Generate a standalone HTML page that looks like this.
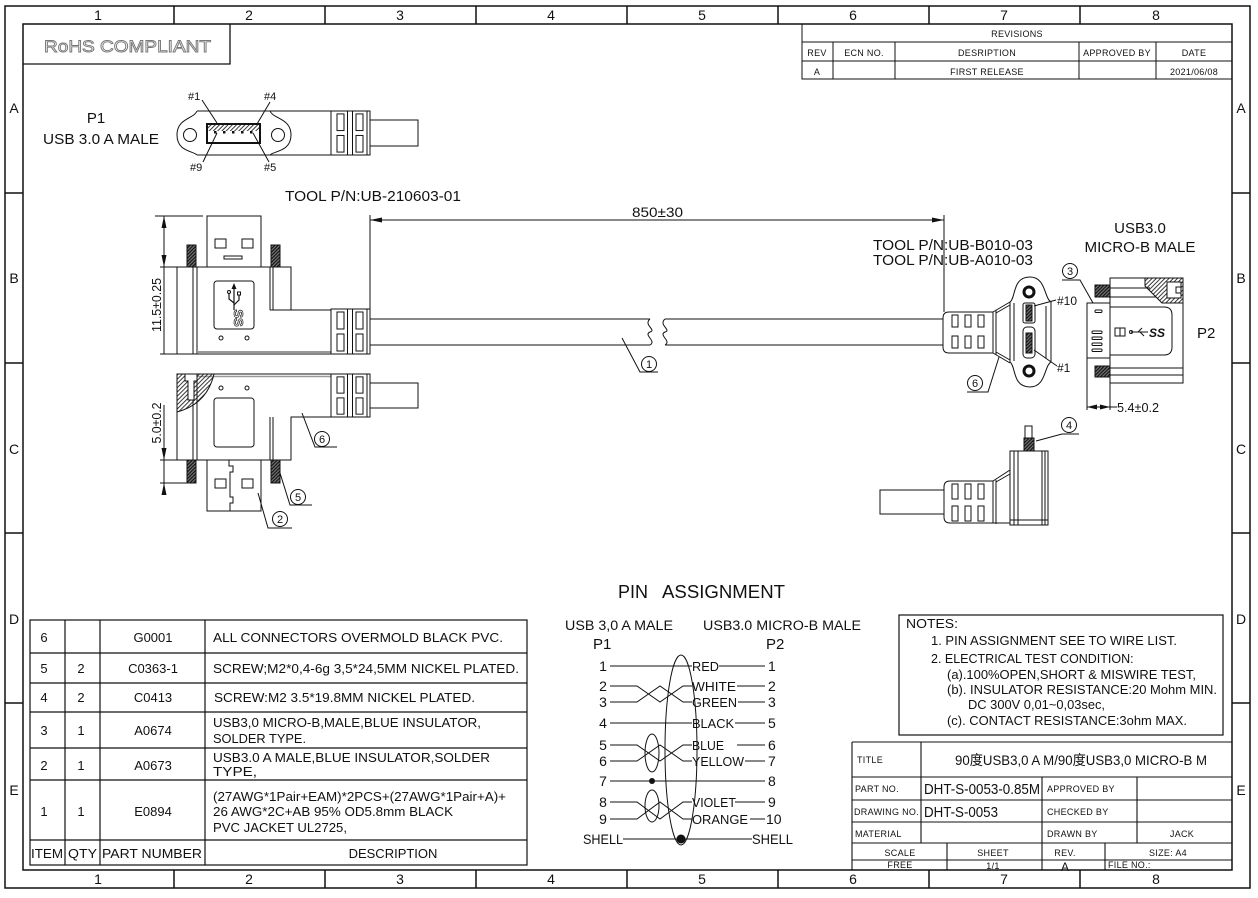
<!DOCTYPE html>
<html><head><meta charset="utf-8"><title>USB3.0 cable drawing</title>
<style>
html,body{margin:0;padding:0;background:#fff;width:1258px;height:898px;overflow:hidden}
svg{display:block}
text{font-family:"Liberation Sans","Noto Sans CJK SC",sans-serif;fill:#111}
.c{font-size:9px;fill:#222;letter-spacing:0.3px}
.z{font-size:14px}
</style></head><body>
<svg width="1258" height="898" viewBox="0 0 1258 898" xmlns="http://www.w3.org/2000/svg">
<defs>
 <pattern id="h" width="3" height="3" patternUnits="userSpaceOnUse" patternTransform="rotate(45)"><line x1="0.5" y1="0" x2="0.5" y2="3" stroke="#222" stroke-width="0.9"/></pattern>
 <pattern id="hd" width="2.4" height="2.4" patternUnits="userSpaceOnUse" patternTransform="rotate(45)"><rect width="2.4" height="2.4" fill="#777"/><line x1="0.6" y1="0" x2="0.6" y2="2.4" stroke="#111" stroke-width="1.2"/></pattern>
 <g id="sr">
  <rect x="0" y="0" width="39" height="45" fill="#fff"/>
  <rect x="6" y="3" width="7" height="17"/><rect x="6" y="25" width="7" height="17"/>
  <line x1="16.5" y1="0" x2="16.5" y2="45"/><line x1="21.5" y1="0" x2="21.5" y2="45"/>
  <rect x="25" y="3" width="7" height="17"/><rect x="25" y="25" width="7" height="17"/>
  <line x1="36" y1="0" x2="36" y2="45"/>
  <rect x="0" y="0" width="39" height="45"/>
 </g>
</defs>
<rect width="1258" height="898" fill="#fff"/>

<!-- FRAME -->
<g stroke="#111" fill="none" stroke-width="1.5">
<rect x="5" y="6" width="1245" height="882"/>
<rect x="23" y="24" width="1209" height="846"/>
<path d="M174,6V24M325,6V24M476,6V24M627,6V24M778,6V24M929,6V24M1080,6V24M174,870V888M325,870V888M476,870V888M627,870V888M778,870V888M929,870V888M1080,870V888M5,193H23M5,363H23M5,533H23M5,703H23M1232,193H1250M1232,363H1250M1232,533H1250M1232,703H1250"/>
</g>
<g class="z" text-anchor="middle">
<text x="98" y="20">1</text><text x="249" y="20">2</text><text x="400" y="20">3</text><text x="551" y="20">4</text><text x="702" y="20">5</text><text x="853" y="20">6</text><text x="1004" y="20">7</text><text x="1156" y="20">8</text>
<text x="98" y="884">1</text><text x="249" y="884">2</text><text x="400" y="884">3</text><text x="551" y="884">4</text><text x="702" y="884">5</text><text x="853" y="884">6</text><text x="1004" y="884">7</text><text x="1156" y="884">8</text>
<text x="14" y="113">A</text><text x="14" y="283">B</text><text x="14" y="454">C</text><text x="14" y="624">D</text><text x="14" y="795">E</text>
<text x="1241" y="113">A</text><text x="1241" y="283">B</text><text x="1241" y="454">C</text><text x="1241" y="624">D</text><text x="1241" y="795">E</text>
</g>

<!-- RoHS -->
<path d="M23,64H230V24" stroke="#111" fill="none" stroke-width="1.3"/>
<text x="44" y="52" font-size="17" textLength="167" lengthAdjust="spacingAndGlyphs" style="fill:#fff;stroke:#777;stroke-width:0.9">RoHS COMPLIANT</text>

<!-- REVISIONS -->
<g stroke="#111" fill="none" stroke-width="1">
<rect x="802" y="24" width="430" height="55"/>
<path d="M802,42H1232M802,61H1232M833,42V79M895,42V79M1079,42V79M1156,42V79"/>
</g>
<g class="c" text-anchor="middle">
<text x="1017" y="37">REVISIONS</text>
<text x="817" y="56">REV</text><text x="864" y="56">ECN NO.</text><text x="987" y="56">DESRIPTION</text><text x="1117" y="56">APPROVED BY</text><text x="1194" y="56">DATE</text>
<text x="817" y="75">A</text><text x="987" y="75">FIRST RELEASE</text><text x="1194" y="75">2021/06/08</text>
</g>

<!-- P1 face view -->
<text x="96" y="123" font-size="15" text-anchor="middle">P1</text>
<text x="43" y="144" font-size="15" textLength="116" lengthAdjust="spacingAndGlyphs">USB 3.0 A MALE</text>
<g stroke="#111" fill="none" stroke-width="1">
<path d="M197,111 C194,119 177,118 177,135 C177,152 194,151 197,155"/>
<path d="M270,111 C273,119 291,118 291,135 C291,152 273,151 270,155"/>
<path d="M197,111H331M197,155H331"/>
<circle cx="190" cy="135" r="6.5"/><circle cx="278" cy="135" r="6.5"/>
<rect x="208" y="125" width="51" height="6" fill="url(#h)" stroke="none"/>
<rect x="207" y="124" width="53" height="19" stroke-width="2"/>
<path d="M202,100L217,123M270,102L257,124M217,133L203,162M253,133L269,162"/>
<rect x="370" y="120" width="48" height="26"/>
</g>
<g fill="#111"><rect x="214" y="131" width="2.5" height="2.5"/><rect x="223" y="131" width="2.5" height="2.5"/><rect x="232" y="131" width="2.5" height="2.5"/><rect x="241" y="131" width="2.5" height="2.5"/><rect x="250" y="131" width="2.5" height="2.5"/></g>
<use href="#sr" transform="translate(331,111) scale(1,0.978)" fill="none" stroke="#111" stroke-width="1"/>
<g font-size="11"><text x="188" y="100">#1</text><text x="264" y="100">#4</text><text x="190" y="171">#9</text><text x="264" y="171">#5</text></g>

<text x="285" y="201" font-size="14.5" textLength="176" lengthAdjust="spacingAndGlyphs">TOOL P/N:UB-210603-01</text>

<!-- TOP SIDE VIEW (A plug) -->
<g stroke="#111" fill="none" stroke-width="1">
<rect x="207" y="216" width="54" height="51"/>
<rect x="215" y="239" width="11" height="9"/><rect x="242" y="239" width="11" height="9"/>
<rect x="224" y="256" width="18" height="3"/>
<rect x="187" y="245" width="9" height="22" fill="url(#hd)"/>
<rect x="271" y="245" width="9" height="22" fill="url(#hd)"/>
<path d="M177,267H291V310H331V354H177Z" fill="#fff"/>
<path d="M193,267V354M197,267V354M270,267V310M273,267V310M270,310H331"/>
<path d="M197,352H331" stroke="#999" stroke-width="2"/>
<rect x="214" y="281" width="40" height="48" rx="3"/>
<path d="M234,287V310M229,293V299L234,303M239,295V300L234,305" stroke-width="1.2"/>
<circle cx="229" cy="292" r="1.5"/><rect x="237.5" y="292" width="3" height="3"/>
<circle cx="221" cy="338" r="2"/><circle cx="247" cy="338" r="2"/>
</g>
<polygon points="234,283 231.5,289 236.5,289" fill="#111"/>
<text x="234" y="318" font-size="13" font-weight="bold" text-anchor="middle" transform="rotate(90 234 318)" style="fill:#fff;stroke:#333;stroke-width:0.8">SS</text>
<use href="#sr" transform="translate(331,309)" fill="none" stroke="#111" stroke-width="1"/>

<!-- dimension 11.5 -->
<g stroke="#111" fill="none" stroke-width="1">
<path d="M155,216H203M160,267H177M160,354H177M164,216V354"/>
<path d="M160,460H177M160,483H187M164,405V495"/>
</g>
<g fill="#111">
<polygon points="164,216 161.5,228 166.5,228"/><polygon points="164,267 161.5,255 166.5,255"/>
<polygon points="164,460 161.5,448 166.5,448"/><polygon points="164,483 161.5,495 166.5,495"/>
</g>
<text x="157" y="305" font-size="13" text-anchor="middle" transform="rotate(-90 157 305)" dy="4" textLength="54" lengthAdjust="spacingAndGlyphs">11.5±0.25</text>
<text x="157" y="423" font-size="13" text-anchor="middle" transform="rotate(-90 157 423)" dy="4" textLength="41" lengthAdjust="spacingAndGlyphs">5.0±0.2</text>

<!-- BOTTOM SIDE VIEW -->
<g stroke="#111" fill="none" stroke-width="1">
<rect x="207" y="460" width="54" height="51"/>
<rect x="215" y="479" width="11" height="9"/><rect x="242" y="479" width="11" height="9"/>
<path d="M229,460V466H233V472H230V497H233V503H230V511"/>
<rect x="187" y="460" width="9" height="23" fill="url(#hd)"/>
<rect x="271" y="460" width="9" height="23" fill="url(#hd)"/>
<path d="M177,374H331V417H291V460H177Z" fill="#fff"/>
<path d="M193,374V460M197,374V460M270,417V460M273,417V460"/>
<path d="M197,376.5H331" stroke="#999" stroke-width="1.5"/>
<path d="M177,374H214Q207,404 177,412Z" fill="url(#h)"/>
<path d="M185,374V381H188V400H194V381H197V374Z" fill="#fff"/>
<rect x="214" y="398" width="40" height="49" rx="3"/>
<circle cx="221" cy="388" r="2"/><circle cx="247" cy="388" r="2"/>
<rect x="370" y="383" width="48" height="25"/>
</g>
<use href="#sr" transform="translate(331,374) scale(1,0.956)" fill="none" stroke="#111" stroke-width="1"/>

<!-- leaders left -->
<g stroke="#111" fill="none" stroke-width="1">
<path d="M302,413L315,447H337"/><circle cx="322" cy="439" r="7.5"/>
<path d="M280,473L290,505H312"/><circle cx="298" cy="497" r="7.5"/>
<path d="M258,493L268,528H292"/><circle cx="280" cy="519" r="7.5"/>
</g>
<g font-size="11" text-anchor="middle"><text x="322" y="443">6</text><text x="298" y="501">5</text><text x="280" y="523">2</text></g>

<!-- CABLE + 850 dim -->
<g stroke="#111" fill="none" stroke-width="1">
<path d="M370,215V309M944,215V312M370,220H944"/>
<path d="M370,319H650M370,345H650M665,319H943M665,345H943"/>
<path d="M650,319C643,325 657,330 650,332C643,335 657,341 650,345"/>
<path d="M665,319C658,325 672,330 665,332C658,335 672,341 665,345"/>
<path d="M622,338L640,372H658"/><circle cx="649" cy="364" r="7.5"/>
</g>
<g fill="#111"><polygon points="370,220 382,217.5 382,222.5"/><polygon points="944,220 932,217.5 932,222.5"/></g>
<text x="649" y="368" font-size="11" text-anchor="middle">1</text>
<text x="632" y="217" font-size="14" textLength="51" lengthAdjust="spacingAndGlyphs">850±30</text>

<text x="873" y="250" font-size="15" textLength="160" lengthAdjust="spacingAndGlyphs">TOOL P/N:UB-B010-03</text>
<text x="873" y="265" font-size="15" textLength="160" lengthAdjust="spacingAndGlyphs">TOOL P/N:UB-A010-03</text>
<text x="1140" y="233" font-size="15" text-anchor="middle">USB3.0</text>
<text x="1140" y="252" font-size="15" text-anchor="middle" textLength="111" lengthAdjust="spacingAndGlyphs">MICRO-B MALE</text>

<!-- RIGHT FRONT VIEW -->
<g stroke="#111" fill="none" stroke-width="1">
<path d="M993,312H949Q943,312 943,318V347Q943,353 949,353H993Z" fill="#fff"/>
<rect x="952" y="315" width="6" height="12"/><rect x="952" y="336" width="6" height="12"/>
<rect x="965" y="315" width="6" height="12"/><rect x="965" y="336" width="6" height="12"/>
<rect x="978" y="315" width="6" height="12"/><rect x="978" y="336" width="6" height="12"/>
<path d="M993,312V353M996,310V355M993,312L1010,302M996,313L1010,305M993,353L1010,363M996,352L1010,360"/>
<path d="M1010,302C1016,298 1012,277 1030,277C1046,277 1044,298 1051,302L1051,362C1044,366 1046,387 1030,387C1012,387 1016,366 1010,362Z" fill="#fff"/>
<path d="M1014,303V361M1046,306V358"/>
<circle cx="1029" cy="292" r="5" stroke-width="3" fill="#fff"/>
<circle cx="1029" cy="371" r="5" stroke-width="3" fill="#fff"/>
<rect x="1023" y="303" width="12" height="20" rx="2"/>
<rect x="1023" y="327" width="12" height="31" rx="4"/>
<rect x="1026" y="305" width="6" height="16" fill="url(#hd)"/>
<rect x="1026" y="333" width="6" height="20" fill="url(#hd)"/>
<path d="M1034,306L1056,300M1034,350L1057,366"/>
<path d="M999,357L988,392H967"/><circle cx="975" cy="383" r="7.5"/>
<path d="M1093,303L1080,280H1062"/><circle cx="1070" cy="271" r="7.5"/>
</g>
<g font-size="12"><text x="1057" y="305">#10</text><text x="1057" y="372">#1</text></g>
<g font-size="11" text-anchor="middle"><text x="975" y="387">6</text><text x="1070" y="275">3</text></g>

<!-- RIGHT SIDE VIEW P2 -->
<g stroke="#111" fill="none" stroke-width="1">
<rect x="1110" y="278" width="73" height="105" fill="#fff"/>
<rect x="1087" y="303" width="23" height="55" fill="#fff"/>
<rect x="1095" y="310" width="7" height="2.5" rx="1"/>
<rect x="1092" y="331" width="10" height="2.5" rx="1"/>
<rect x="1092" y="337" width="10" height="2.5" rx="1"/>
<rect x="1092" y="343" width="10" height="2.5" rx="1"/>
<rect x="1092" y="349" width="10" height="2.5" rx="1"/>
<rect x="1095" y="285" width="15" height="12" fill="url(#hd)"/>
<rect x="1095" y="366" width="15" height="11" fill="url(#hd)"/>
<path d="M1110,288H1150M1110,297H1156M1110,368H1183M1110,375H1183"/>
<path d="M1145,278H1183V303H1162L1145,286Z" fill="url(#h)"/>
<rect x="1167" y="282" width="14" height="16" fill="#fff"/>
<rect x="1176" y="287" width="5" height="6" fill="#fff"/>
<path d="M1110,307H1164Q1172,307 1172,315V347Q1172,355 1164,355H1110"/>
<rect x="1115" y="328" width="10" height="8"/><path d="M1120,328V336"/>
<path d="M1131,332H1148M1138,332L1142,328M1140,332L1144,336"/><circle cx="1131" cy="332" r="1.5"/>
<path d="M1087,358V410M1110,383V410M1087,407H1117"/>
</g>
<g fill="#111"><polygon points="1087,407 1097,404.5 1097,409.5"/><polygon points="1110,407 1100,404.5 1100,409.5"/></g>
<text x="1149" y="337" font-size="12" font-weight="bold" font-style="italic">SS</text>
<text x="1197" y="338" font-size="15">P2</text>
<text x="1117" y="412" font-size="13" textLength="42" lengthAdjust="spacingAndGlyphs">5.4±0.2</text>

<!-- RIGHT BOTTOM VIEW -->
<g stroke="#111" fill="none" stroke-width="1">
<rect x="880" y="490" width="64" height="24" fill="#fff"/>
<path d="M993,481H950Q944,481 944,487V517Q944,523 950,523H993Z" fill="#fff"/>
<rect x="952" y="484" width="6" height="15"/><rect x="952" y="506" width="6" height="15"/>
<rect x="965" y="484" width="6" height="15"/><rect x="965" y="506" width="6" height="15"/>
<rect x="978" y="484" width="6" height="15"/><rect x="978" y="506" width="6" height="15"/>
<path d="M993,481V523M996,480V524M993,481L1010,470M996,482L1010,474M993,523H1048"/>
<rect x="1010" y="451" width="38" height="74" fill="#fff"/>
<path d="M1014,451V525M1018,451V525M1042,451V525M1045,451V525M1010,520H1048"/>
<rect x="1025" y="426" width="7" height="12"/>
<rect x="1024" y="438" width="10" height="13" fill="url(#hd)"/>
<path d="M1079,434H1062L1036,441"/><circle cx="1069" cy="425" r="7.5"/>
</g>
<text x="1069" y="429" font-size="11" text-anchor="middle">4</text>

<!-- PIN ASSIGNMENT -->
<text x="618" y="598" font-size="18">PIN</text>
<text x="662" y="598" font-size="18" textLength="123" lengthAdjust="spacingAndGlyphs">ASSIGNMENT</text>
<text x="565" y="630" font-size="13.5" textLength="108" lengthAdjust="spacingAndGlyphs">USB 3,0 A MALE</text>
<text x="703" y="630" font-size="13.5" textLength="158" lengthAdjust="spacingAndGlyphs">USB3.0 MICRO-B MALE</text>
<text x="593" y="649" font-size="15">P1</text><text x="766" y="649" font-size="15">P2</text>
<g font-size="14" text-anchor="middle">
<text x="603" y="671">1</text><text x="603" y="691">2</text><text x="603" y="707">3</text><text x="603" y="728">4</text><text x="603" y="750">5</text><text x="603" y="766">6</text><text x="603" y="786">7</text><text x="603" y="807">8</text><text x="603" y="824">9</text>
</g>
<g font-size="14">
<text x="768" y="671">1</text><text x="768" y="691">2</text><text x="768" y="707">3</text><text x="768" y="728">5</text><text x="768" y="750">6</text><text x="768" y="766">7</text><text x="768" y="786">8</text><text x="768" y="807">9</text><text x="766" y="824">10</text>
</g>
<g font-size="13">
<text x="692" y="671" textLength="27" lengthAdjust="spacingAndGlyphs">RED</text>
<text x="692" y="691" textLength="44" lengthAdjust="spacingAndGlyphs">WHITE</text>
<text x="692" y="707" textLength="45" lengthAdjust="spacingAndGlyphs">GREEN</text>
<text x="692" y="728" textLength="42" lengthAdjust="spacingAndGlyphs">BLACK</text>
<text x="692" y="750" textLength="32" lengthAdjust="spacingAndGlyphs">BLUE</text>
<text x="692" y="766" textLength="52" lengthAdjust="spacingAndGlyphs">YELLOW</text>
<text x="692" y="807" textLength="44" lengthAdjust="spacingAndGlyphs">VIOLET</text>
<text x="692" y="824" textLength="56" lengthAdjust="spacingAndGlyphs">ORANGE</text>
<text x="583" y="844" font-size="14" textLength="40" lengthAdjust="spacingAndGlyphs">SHELL</text>
<text x="752" y="844" font-size="14" textLength="41" lengthAdjust="spacingAndGlyphs">SHELL</text>
</g>
<g stroke="#111" fill="none" stroke-width="1">
<path d="M610,666H692M719,666H765"/>
<path d="M610,686H637L660,702L683,686H692M610,702H637L660,686L683,702H692M737,686H765M738,702H765"/>
<path d="M610,723H692M735,723H765"/>
<path d="M610,745H637L660,761L683,745H692M610,761H637L660,745L683,761H692M737,745H765M745,761H765"/>
<path d="M610,781H765"/>
<path d="M610,802H637L660,819L683,802H692M610,819H637L660,802L683,819H692M735,802H765M750,819H765"/>
<path d="M623,839H752"/>
<ellipse cx="652" cy="753" rx="7" ry="19"/>
<ellipse cx="652" cy="806" rx="7" ry="16"/>
<ellipse cx="681" cy="750" rx="16" ry="95"/>
</g>
<circle cx="652" cy="781" r="3" fill="#111"/>
<circle cx="681" cy="839" r="4.5" fill="#111"/>

<!-- BOM TABLE -->
<g stroke="#111" fill="none" stroke-width="1.2">
<rect x="30" y="620" width="497" height="245"/>
<path d="M30,653H527M30,683H527M30,712H527M30,748H527M30,780H527M30,840H527M65,620V865M100,620V865M205,620V865"/>
</g>
<g font-size="13">
<g text-anchor="middle">
<text x="44" y="642">6</text><text x="153" y="642">G0001</text>
<text x="44" y="673">5</text><text x="81" y="673">2</text><text x="153" y="673">C0363-1</text>
<text x="44" y="702">4</text><text x="81" y="702">2</text><text x="153" y="702">C0413</text>
<text x="44" y="735">3</text><text x="81" y="735">1</text><text x="153" y="735">A0674</text>
<text x="44" y="770">2</text><text x="81" y="770">1</text><text x="153" y="770">A0673</text>
<text x="44" y="816">1</text><text x="81" y="816">1</text><text x="153" y="816">E0894</text>
<text x="393" y="858">DESCRIPTION</text>
</g>
<text x="213" y="642" textLength="290" lengthAdjust="spacingAndGlyphs">ALL CONNECTORS OVERMOLD BLACK PVC.</text>
<text x="213" y="673" textLength="306" lengthAdjust="spacingAndGlyphs">SCREW;M2*0,4-6g 3,5*24,5MM NICKEL PLATED.</text>
<text x="214" y="702" textLength="261" lengthAdjust="spacingAndGlyphs">SCREW:M2 3.5*19.8MM NICKEL PLATED.</text>
<text x="213" y="727" textLength="268" lengthAdjust="spacingAndGlyphs">USB3,0 MICRO-B,MALE,BLUE INSULATOR,</text>
<text x="213" y="743" textLength="93" lengthAdjust="spacingAndGlyphs">SOLDER TYPE.</text>
<text x="213" y="762" textLength="277" lengthAdjust="spacingAndGlyphs">USB3.0 A MALE,BLUE INSULATOR,SOLDER</text>
<text x="213" y="776" textLength="44" lengthAdjust="spacingAndGlyphs">TYPE,</text>
<text x="213" y="801" textLength="293" lengthAdjust="spacingAndGlyphs">(27AWG*1Pair+EAM)*2PCS+(27AWG*1Pair+A)+</text>
<text x="213" y="816" textLength="240" lengthAdjust="spacingAndGlyphs">26 AWG*2C+AB 95% OD5.8mm BLACK</text>
<text x="213" y="832" textLength="134" lengthAdjust="spacingAndGlyphs">PVC JACKET UL2725,</text>
<text x="31" y="858" textLength="32" lengthAdjust="spacingAndGlyphs">ITEM</text>
<text x="68" y="858" textLength="29" lengthAdjust="spacingAndGlyphs">QTY</text>
<text x="102" y="858" textLength="100" lengthAdjust="spacingAndGlyphs">PART NUMBER</text>
</g>

<!-- NOTES -->
<rect x="899" y="615" width="324" height="120" fill="none" stroke="#111" stroke-width="1.2"/>
<g font-size="13">
<text x="906" y="628" textLength="52" lengthAdjust="spacingAndGlyphs">NOTES:</text>
<text x="931" y="645" textLength="246" lengthAdjust="spacingAndGlyphs">1. PIN ASSIGNMENT SEE TO WIRE LIST.</text>
<text x="931" y="663" font-size="12.5">2. ELECTRICAL TEST CONDITION:</text>
<text x="947" y="679" textLength="249" lengthAdjust="spacingAndGlyphs">(a).100%OPEN,SHORT &amp; MISWIRE TEST,</text>
<text x="947" y="694" textLength="270" lengthAdjust="spacingAndGlyphs">(b). INSULATOR RESISTANCE:20 Mohm MIN.</text>
<text x="968" y="709" textLength="137" lengthAdjust="spacingAndGlyphs">DC 300V 0,01~0,03sec,</text>
<text x="947" y="725" textLength="240" lengthAdjust="spacingAndGlyphs">(c). CONTACT RESISTANCE:3ohm MAX.</text>
</g>

<!-- TITLE BLOCK -->
<g stroke="#111" fill="none" stroke-width="1.1">
<path d="M852,742H1232M852,777H1232M852,800H1232M852,822H1232M852,843H1232M852,860H1232M852,742V870M921,742V843M1042,777V843M1137,777V843M947,843V870M1042,843V870M1105,843V870"/>
</g>
<g class="c">
<text x="857" y="763">TITLE</text>
<text x="855" y="792">PART NO.</text>
<text x="854" y="815">DRAWING NO.</text>
<text x="855" y="837">MATERIAL</text>
<text x="1047" y="792">APPROVED BY</text>
<text x="1047" y="815">CHECKED BY</text>
<text x="1047" y="837">DRAWN BY</text>
<text x="1182" y="837" text-anchor="middle">JACK</text>
<text x="900" y="856" text-anchor="middle">SCALE</text>
<text x="993" y="856" text-anchor="middle">SHEET</text>
<text x="1065" y="856" text-anchor="middle">REV.</text>
<text x="1168" y="856" text-anchor="middle">SIZE: A4</text>
<text x="900" y="868" text-anchor="middle">FREE</text>
<text x="993" y="869" text-anchor="middle">1/1</text>
<text x="1108" y="868">FILE NO.:</text>
</g>
<text x="1065" y="871" font-size="12" text-anchor="middle">A</text>
<text x="955" y="765" font-size="14" textLength="252" lengthAdjust="spacingAndGlyphs">90度USB3,0 A M/90度USB3,0 MICRO-B M</text>
<text x="924" y="794" font-size="14.5" textLength="116" lengthAdjust="spacingAndGlyphs">DHT-S-0053-0.85M</text>
<text x="924" y="817" font-size="14.5" textLength="74" lengthAdjust="spacingAndGlyphs">DHT-S-0053</text>
</svg>
</body></html>
